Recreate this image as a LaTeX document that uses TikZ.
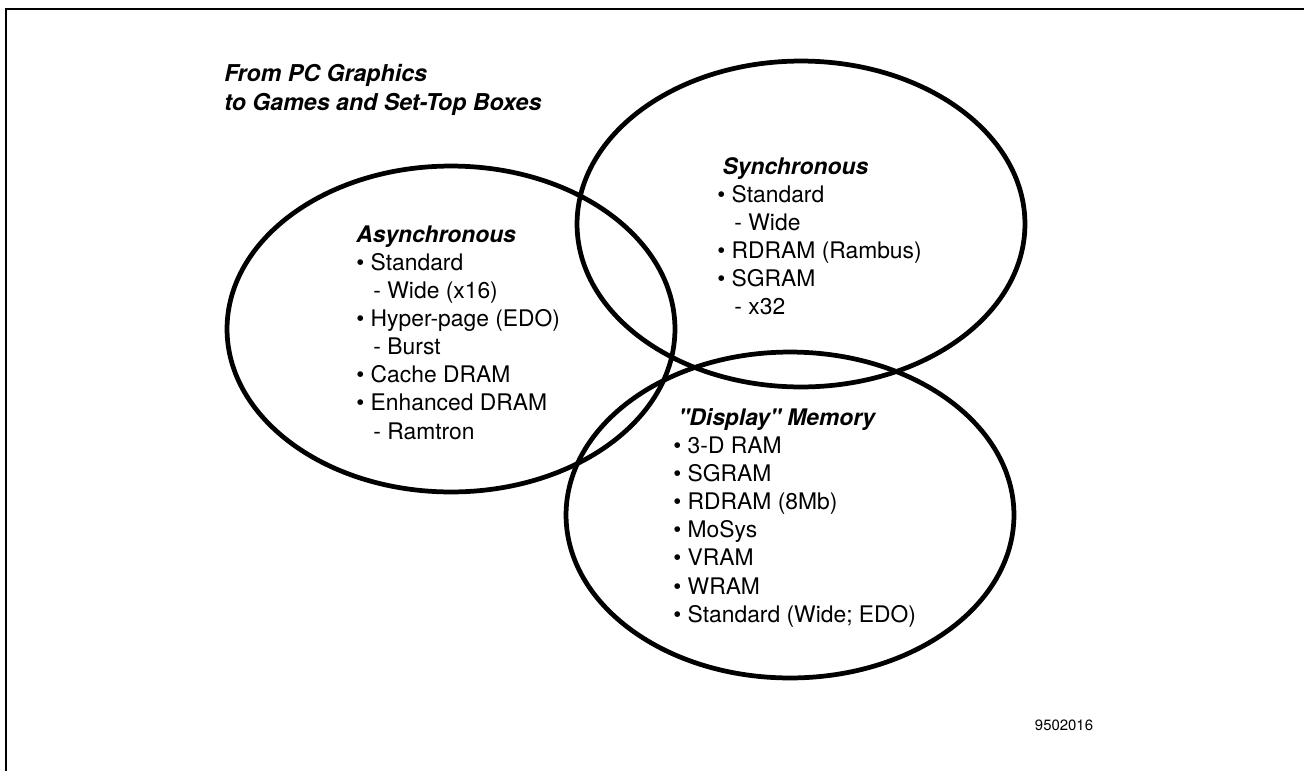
\documentclass[tikz,border=0pt]{standalone}
\usepackage{fontspec}
\setmainfont{TeX Gyre Heros}
\usetikzlibrary{shapes.geometric,positioning}

\tikzset{
  venn/.style = {ellipse, draw=black, line width=2.7pt, inner sep=0pt,
                 minimum width=8.96cm, minimum height=6.52cm},
  blk/.style  = {anchor=north west, inner sep=0pt, align=left,
                 font=\fontsize{13}{15.94}\selectfont},
  ttl/.style  = {anchor=north west, inner sep=0pt, align=left,
                 font=\fontsize{13.2}{16.5}\selectfont\bfseries\itshape},
  frm/.style  = {line width=1.7pt},
  tag/.style  = {inner sep=0pt, font=\fontsize{8.5}{10}\selectfont},
}
\newcommand{\vhead}[1]{\strut\textbf{\textit{#1}}}
\newcommand{\vitem}[1]{\strut\textbullet\ #1}
\newcommand{\vsub}[1]{\strut\hspace*{0.75em}-\ #1}

\begin{document}
\begin{tikzpicture}[x=0.02cm, y=-0.02cm]
  \useasboundingbox (0,0) rectangle (1304,771);

  % frame
  \draw[frm] (6,771) -- (6,9) -- (1304,9);

  % the three sets
  \node[venn] (async) at (451,329) {};
  \node[venn] (sync)  at (801,224) {};
  \node[venn] (disp)  at (790,515) {};

  \node[ttl] (title) at (224,61) {\strut From PC Graphics\\\strut to Games and Set-Top Boxes};

  \node[blk] (asynctxt) at (356,223) {\vhead{Asynchronous}\\
    \vitem{Standard}\\ \vsub{Wide (x16)}\\
    \vitem{Hyper-page (EDO)}\\ \vsub{Burst}\\
    \vitem{Cache DRAM}\\
    \vitem{Enhanced DRAM}\\ \vsub{Ramtron}};

  \node[blk] (synctxt) at (717,155) {\hspace*{3pt}\vhead{Synchronous}\\
    \vitem{Standard}\\ \vsub{Wide}\\
    \vitem{RDRAM (Rambus)}\\
    \vitem{SGRAM}\\ \vsub{x32}};

  \node[blk] (disptxt) at (673,406) {\hspace*{3pt}\vhead{\textquotedbl Display\textquotedbl\ Memory}\\
    \vitem{3-D RAM}\\
    \vitem{SGRAM}\\
    \vitem{RDRAM (8Mb)}\\
    \vitem{MoSys}\\
    \vitem{VRAM}\\
    \vitem{WRAM}\\
    \vitem{Standard (Wide; EDO)}};

  \node[tag] (fignum) at (1064,725) {9502016};
\end{tikzpicture}
\end{document}
